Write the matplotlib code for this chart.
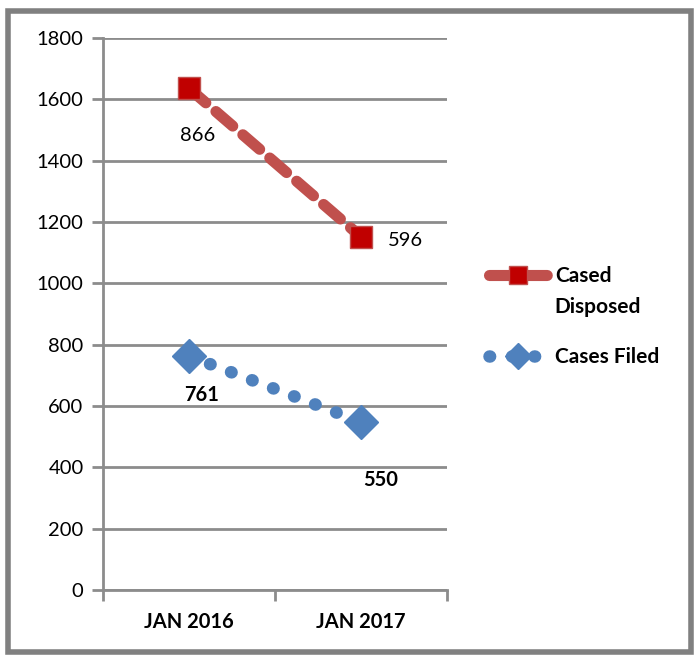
import matplotlib.pyplot as plt
from matplotlib.patches import Rectangle
from matplotlib.legend_handler import HandlerLine2D

# Data
categories = ["JAN 2016", "JAN 2017"]
disposed = [1636, 1152]
filed = [763, 548]
disposed_labels = ["866", "596"]
filed_labels = ["761", "550"]

plt.rcParams['font.family'] = ['Lato', 'DejaVu Sans']

fig = plt.figure(figsize=(6.99, 6.6), dpi=100)
ax = fig.add_axes([0.1474, 0.106, 0.492, 0.8364])

x = list(range(len(categories)))
grey = "#8c8c8c"
fs = 14.5

l1, = ax.plot(x, disposed, color="#C0504D", linewidth=8, linestyle=(0, (2.0, 1.2)),
              dash_capstyle="round", marker="s", markersize=16,
              markerfacecolor="#C00000", markeredgecolor="#C0504D", markeredgewidth=1,
              label="Cased\nDisposed", zorder=3)
l2, = ax.plot(x, filed, color="#4F81BD", linewidth=9, linestyle=(0, (0.05, 1.75)),
              dash_capstyle="round", marker="D", markersize=17,
              markerfacecolor="#4F81BD", markeredgecolor="#4F81BD",
              label="Cases Filed", zorder=3)

# data labels
ax.annotate(disposed_labels[0], (x[0], disposed[0]), xytext=(6, -34),
            textcoords="offset points", ha="center", va="center", fontsize=fs)
ax.annotate(disposed_labels[1], (x[1], disposed[1]), xytext=(32, -3),
            textcoords="offset points", ha="center", va="center", fontsize=fs)
ax.annotate(filed_labels[0], (x[0], filed[0]), xytext=(9, -28),
            textcoords="offset points", ha="center", va="center", fontsize=fs,
            fontweight="bold")
ax.annotate(filed_labels[1], (x[1], filed[1]), xytext=(14, -42),
            textcoords="offset points", ha="center", va="center", fontsize=fs,
            fontweight="bold")

ax.set_xlim(-0.5, 1.5)
ax.set_ylim(0, 1800)
ax.set_yticks(range(0, 1801, 200))
ax.set_xticks(x)
ax.set_xticklabels(categories, fontweight="bold", fontsize=fs)
ax.set_xticks([-0.5, 0.5, 1.5], minor=True)
ax.tick_params(axis="x", which="major", length=0, pad=16)
ax.tick_params(axis="x", which="minor", length=8, width=2, color=grey, direction="out")
ax.tick_params(axis="y", length=8, width=2, color=grey, labelsize=fs, pad=6)

ax.grid(axis="y", color=grey, linewidth=2)
ax.set_axisbelow(True)
for side in ["top", "right"]:
    ax.spines[side].set_visible(False)
for side in ["left", "bottom"]:
    ax.spines[side].set_color(grey)
    ax.spines[side].set_linewidth(2)


# put the two-line entry's handle level with its first line
class TopHandler(HandlerLine2D):
    def create_artists(self, legend, orig, xdescent, ydescent, width, height,
                       fontsize, trans):
        return super().create_artists(legend, orig, xdescent, ydescent - 24,
                                      width, height, fontsize, trans)


leg = fig.legend(handles=[l1, l2], loc="upper left", bbox_to_anchor=(0.673, 0.625),
                 frameon=False, handlelength=2.8, handletextpad=0.35,
                 labelspacing=1.45, prop={"weight": "bold", "size": 15},
                 markerscale=0.8, handler_map={l1: TopHandler()})
for t in leg.get_texts():
    t.set_linespacing(1.65)

# outer border
fig.patches.append(Rectangle((0.012, 0.012), 0.976, 0.972, transform=fig.transFigure,
                             fill=False, edgecolor="#808080", linewidth=4))

fig.savefig("out.png", dpi=100)
